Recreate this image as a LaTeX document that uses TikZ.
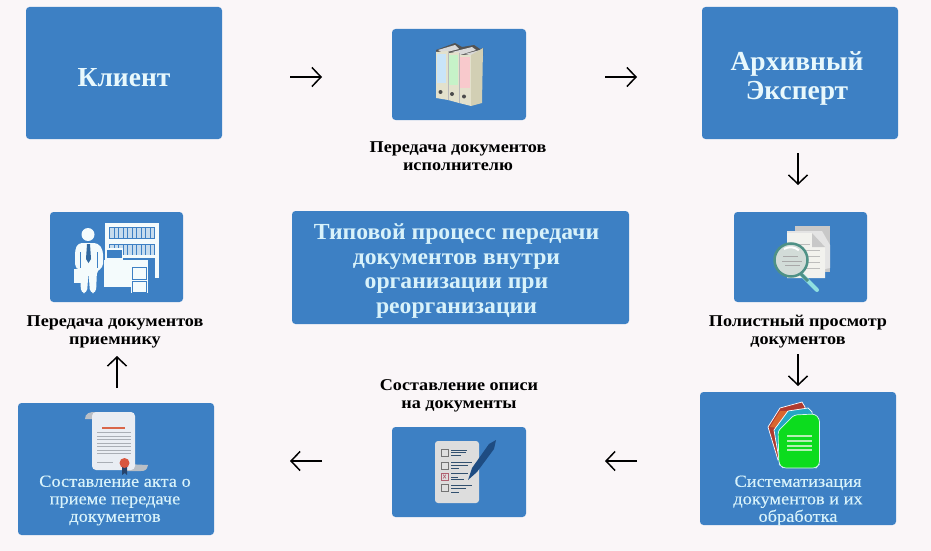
\documentclass[tikz,border=0pt]{standalone}
\usepackage{fontspec}
\setmainfont{Liberation Serif}
\newfontfamily\capf[FakeStretch=1.1]{Liberation Serif}
\newfontfamily\titf[FakeStretch=1.03]{Liberation Serif}
\newfontfamily\innf[FakeStretch=1.08,FakeBold=0.25]{Liberation Serif}
\usetikzlibrary{arrows.meta}
\definecolor{bg}{HTML}{FAF6F8}
\definecolor{boxb}{HTML}{3D80C4}
\definecolor{ltxt}{HTML}{D8F2FA}
\definecolor{bigt}{HTML}{E8F8FC}
\definecolor{fba}{HTML}{E3E1CC}
\definecolor{fbb}{HTML}{D2CFB4}
\definecolor{fbl}{HTML}{C9E4F8}
\definecolor{fgr}{HTML}{C6F2C8}
\definecolor{fpk}{HTML}{F8C9CC}
\definecolor{mga}{HTML}{C8C8C8}
\definecolor{mgb}{HTML}{E4E4E4}
\definecolor{mgc}{HTML}{F2F2EE}
\definecolor{mgd}{HTML}{BDBDBD}
\definecolor{mge}{HTML}{8FE0E0}
\definecolor{mgf}{HTML}{4E9186}
\definecolor{mgg}{HTML}{D2DCD8}
\definecolor{mgh}{HTML}{A8A8A8}
\definecolor{pwh}{HTML}{F4FBFC}
\definecolor{pti}{HTML}{31689F}
\definecolor{sga}{HTML}{B9BFC6}
\definecolor{sgb}{HTML}{E9EDF3}
\definecolor{sre}{HTML}{D9674A}
\definecolor{sgl}{HTML}{A9AEB5}
\definecolor{snv}{HTML}{26446C}
\definecolor{sse}{HTML}{D9573F}
\definecolor{cpa}{HTML}{DDDDDD}
\definecolor{cpk}{HTML}{B06070}
\definecolor{cln}{HTML}{31506F}
\definecolor{cpn}{HTML}{1E4C82}
\definecolor{dre}{HTML}{B03A2E}
\definecolor{dor}{HTML}{D9662E}
\definecolor{dcy}{HTML}{24A6C4}
\definecolor{dgr}{HTML}{0CDC1E}
\definecolor{dln}{HTML}{B4F0B4}
\definecolor{ded}{HTML}{D8F8F0}
\tikzset{
 bx/.style={fill=boxb,rounded corners=3.5pt},
 bigl/.style={text=bigt,font=\fontsize{27.5}{29}\selectfont\bfseries,align=center},
 capl/.style={text=black,font=\capf\fontsize{16.5}{18}\selectfont\bfseries,align=center},
 inn/.style={text=ltxt,font=\innf\fontsize{17}{17.5}\selectfont,align=center},
 cen/.style={text=ltxt,font=\titf\fontsize{23}{24.5}\selectfont\bfseries,align=center},
 arr/.style={-{Straight Barb[length=9pt,width=19pt]},line width=1.5pt,black},
}
\begin{document}
\begin{tikzpicture}[x=1pt,y=-1pt]
\useasboundingbox (0,0) rectangle (931,551);
\fill[bg] (0,0) rectangle (931,551);
% boxes
\fill[bx] (26,7) rectangle (222,139);
\fill[bx] (392,29) rectangle (526,120);
\fill[bx] (702,7) rectangle (898,139);
\fill[bx] (292,211) rectangle (629,324);
\fill[bx] (734,212) rectangle (867,302);
\fill[bx] (50,212) rectangle (183,302);
\fill[bx] (18,403) rectangle (214,535);
\fill[bx] (392,427) rectangle (526,517);
\fill[bx] (700,392) rectangle (896,525);
% text
\node[bigl] (client) at (124,78) {Клиент};
\node[bigl] (expert) at (797,78) {Архивный\\Эксперт};
\node[cen] (title) at (456.5,271) {Типовой процесс передачи\\документов внутри\\организации при\\реорганизации};
\node[capl] (c1) at (458,156) {Передача документов\\исполнителю};
\node[capl] (c2) at (798,331.5) {Полистный просмотр\\документов};
\node[capl] (c3) at (459,395.5) {Составление описи\\на документы};
\node[capl] (c4) at (115,332) {Передача документов\\приемнику};
\node[inn] (actt) at (115,500.5) {Составление акта о\\приеме передаче\\документов};
\node[inn] (syst) at (798,500.5) {Систематизация\\документов и их\\обработка};
% arrow ends
\coordinate (a1s) at (290,77); \coordinate (a1e) at (322,77);
\coordinate (a2s) at (605,77); \coordinate (a2e) at (637,77);
\coordinate (a3s) at (798,153); \coordinate (a3e) at (798,185);
\coordinate (a4s) at (798,354); \coordinate (a4e) at (798,386);
\coordinate (a5s) at (637,461); \coordinate (a5e) at (605,461);
\coordinate (a6s) at (322,461); \coordinate (a6e) at (290,461);
\coordinate (a7s) at (117,388); \coordinate (a7e) at (117,356);
\foreach \i in {1,...,7} \draw[arr] (a\i s) -- (a\i e);
% folders icon
\begin{scope}
\fill[gray!65!black] (436,50) -- (455,43) -- (462,47) -- (474,45) -- (480,49) -- (483,48) -- (483,56) -- (436,56) -- cycle;
\fill[gray!30] (438,50) -- (455,45) -- (459,49) -- (443,53) -- cycle;
\fill[gray!30] (452,52) -- (472,47) -- (476,50) -- (460,55) -- cycle;
\fill[gray!30] (465,54) -- (480,50) -- (483,53) -- (474,56) -- cycle;
\fill[fba] (436,52) -- (448,51) -- (448,100) -- (436,98) -- cycle;
\fill[fba] (448,53) -- (459,52) -- (459,103) -- (448,100) -- cycle;
\fill[fba] (459,55) -- (471,55) -- (471,106) -- (459,103) -- cycle;
\fill[fbb] (471,55) -- (483,48) -- (482,103) -- (471,106) -- cycle;
\draw[gray!55,line width=.5pt] (448,52) -- (448,100) (459,53) -- (459,103);
\fill[fbl] (437,54) rectangle (446,83);
\fill[fgr] (448.5,55) rectangle (458,85);
\fill[fpk] (460,57) rectangle (470,88);
\fill[black!70] (440.5,92) circle (2);
\fill[black!70] (452,94) circle (2);
\fill[black!70] (464,96.5) circle (2);
\end{scope}
% magnifier icon
\begin{scope}
\fill[mga] (795,226) -- (830,226) -- (830,272) -- (795,272) -- cycle;
\fill[mgb] (787,231) -- (822,231) -- (830,245) -- (830,268) -- (787,277) -- cycle;
\fill[mgc] (787,233) -- (812,233) -- (825,247) -- (825,278) -- (787,278) -- cycle;
\fill[mga] (812,233) -- (825,247) -- (812,247) -- cycle;
\draw[mgd,line width=.8pt] (795,244) -- (810,244) (800,250) -- (820,250) (805,256) -- (820,256) (805,262) -- (820,262) (805,268) -- (820,268);
\draw[mge,line width=4pt,line cap=round] (802,275) -- (817,290);
\draw[mgf,line width=3pt] (801,274) -- (808,281);
\fill[mgg] (791,260) circle (16);
\draw[mgf,line width=2.5pt] (791,260) circle (16.5);
\draw[white,line width=2pt] (784,249) arc[start angle=-120,end angle=-50,radius=13];
\draw[mgh,line width=1pt] (783,256) -- (798,256) (782,261) -- (802,261) (785,265) -- (800,265);
\end{scope}
% person icon
\begin{scope}
\fill[pwh] (105,223) rectangle (109,278);
\fill[pwh] (155,223) rectangle (158.5,278);
\fill[pwh] (105,223) rectangle (158.5,227);
\fill[pwh] (105,239) rectangle (158.5,244);
\fill[pwh] (105,255) rectangle (158.5,258);
\foreach \x in {110,114.5,...,152}{\fill[pwh!75!boxb] (\x,228) rectangle ++(3.5,10);\fill[pwh!75!boxb] (\x,245) rectangle ++(3.5,9.5);}
\fill[pwh] (98,260) rectangle (148,264);
\fill[pwh] (99,264) rectangle (132,287);
\fill[pwh] (131,264) rectangle (147.5,293);
\draw[boxb,line width=.8pt] (132.5,267) rectangle (146.5,279) (132.5,281) rectangle (146.5,292);
\fill[pwh] (105,248) rectangle (123,259.5);
\fill[boxb] (106.5,249.5) rectangle (121.5,258);
\fill[pwh] (88,234.5) circle (6.5);
\fill[boxb] (72,242) rectangle (104,296);
\fill[pwh,rounded corners=4pt] (78,243) -- (98,243) -- (103,250) -- (103,268) -- (97,270) -- (96,293) -- (90,293) -- (88.5,272) -- (87,293) -- (81,293) -- (80,270) -- (75,268) -- (75,250) -- cycle;
\draw[boxb,line width=.8pt] (80,252) -- (80,268) (97,252) -- (97,268);
\fill[pwh] (74,269) rectangle (82,283);
\fill[pti] (87,244) -- (90,244) -- (91,259) -- (88.5,263) -- (86,259) -- cycle;
\end{scope}
% scroll icon
\begin{scope}
\fill[sga] (85,419) .. controls (85,413) and (90,412) .. (95,412) -- (125,412) -- (125,420) -- cycle;
\fill[sga] (125,464) -- (148,465) .. controls (147,470) and (145,471) .. (141,471) -- (125,471) -- cycle;
\fill[sgb,rounded corners=4pt] (92,412) -- (135,412) -- (135,470) -- (92,470) -- cycle;
\fill[sre] (102,427) rectangle (125,429);
\foreach \y in {432.5,436,...,455}{\draw[sgl,line width=.7pt] (97,\y) -- (131,\y);}
\draw[sgl,line width=.8pt] (97,462) -- (113,462);
\fill[snv] (122,466) -- (122,475) -- (125,473) -- (127,475) -- (127,466) -- cycle;
\fill[sse] (124.5,463) circle (5);
\end{scope}
% checklist icon
\begin{scope}
\fill[cpa,rounded corners=3pt] (435,441) rectangle (479,503);
\foreach \y/\c in {453/black!55,465.5/black!55,476.5/cpk,488/black!55}{\draw[\c,line width=.9pt,fill=gray!25] (441,\y-3.5) rectangle (448,\y+3.5);}
\draw[cln,line width=.9pt] (451,450) -- (467,450) (451,452.5) -- (466,452.5) (451,455) -- (461,455);
\draw[cln,line width=.9pt] (451,462) -- (472,462) (451,465) -- (468,465) (451,468) -- (459,468);
\draw[cln,line width=.9pt] (451,473) -- (468,473) (451,477) -- (458,477) (451,479.5) -- (464,479.5);
\draw[cln,line width=.9pt] (451,485) -- (472,485) (451,488) -- (466,488) (451,492) -- (459,492);
\draw[cpk,line width=.6pt] (443,474.5) -- (446,478.5) (446,474.5) -- (443,478.5);
\fill[cpn] (468,480) -- (472,468) -- (489,444) -- (496,440) -- (494,449) -- (477,472) -- cycle;
\end{scope}
% stacked docs icon
\begin{scope}
\draw[white,line width=.7pt,fill=dre] (768,427) -- (780,408) -- (802,402) -- (805,407) -- (806,440) -- (778,460) -- cycle;
\fill[dor] (770,427) -- (780,411) -- (792,411) -- (778,428) -- cycle;
\draw[white,line width=.7pt,fill=dcy] (774,430) -- (788,411) -- (808,408) -- (812,412) -- (815,440) -- (780,465) -- cycle;
\draw[ded,line width=.7pt,fill=dgr,rounded corners=3pt] (778,431) -- (794,415) -- (815,414) -- (819.5,419) -- (819.5,464) -- (816,468) -- (783,468) -- (779,464) -- cycle;
\foreach \y in {434.5,439.5,444.5,449}{\fill[dln] (787,\y) rectangle (812,\y+2);}
\end{scope}
\end{tikzpicture}
\end{document}
